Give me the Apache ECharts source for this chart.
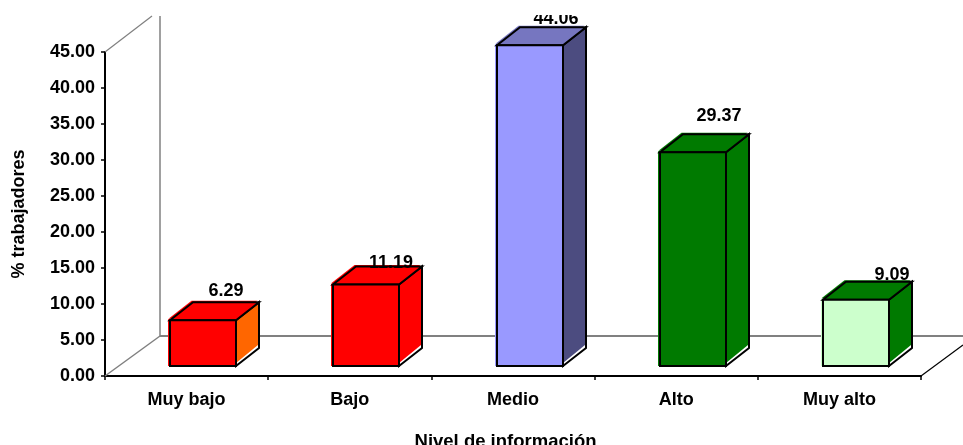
<!DOCTYPE html>
<html>
<head>
<meta charset="utf-8">
<style>html,body{margin:0;padding:0;background:#fff}#chart{width:963px;height:445px}</style>
<script src="https://cdn.jsdelivr.net/npm/echarts@6/dist/echarts.min.js"></script>
</head>
<body>
<div id="chart"></div>
<script>
// Nivel de información: share of workers per level
const categories = ['Muy bajo', 'Bajo', 'Medio', 'Alto', 'Muy alto'];
const values = [6.29, 11.19, 44.06, 29.37, 9.09];
const valueLabels = ['6.29', '11.19', '44.06', '29.37', '9.09'];
const yTicks = { min: 0, max: 45, interval: 5 };

// Per-bar face colours
const frontColors = ['#ff0000', '#ff0000', '#9999ff', '#007a00', '#ccffcc'];
const topColors = ['#ff0000', '#ff0000', '#7676c0', '#007a00', '#007a00'];
const sideColors = ['#ff6600', '#ff0000', '#4c4c80', '#007a00', '#007a00'];
// Hand-placed data label nudges, relative to the top-right of each bar's front face
const labelNudge = [[-10, -29], [-8, -22], [-7, -26], [-7, -36], [3, -25]];

// Oblique projection constants
const FLOOR = { dx: 55, dy: -40 };
const BAR_DEPTH = { dx: 23, dy: -18 };
const BAR_SHIFT = { dx: 16.5, dy: -10 };
const BAR_WIDTH = 66;
const FRONT_SCALE = 1.011;
const FONT = '"Liberation Sans", Arial, sans-serif';

const line = (x1, y1, x2, y2, stroke, lineWidth) => ({
  type: 'line',
  shape: { x1, y1, x2, y2 },
  style: { stroke, lineWidth }
});

function renderWalls(params, api) {
  const o = api.coord([0, 0]);
  const top = api.coord([0, yTicks.max]);
  const left = params.coordSys.x;
  const right = left + params.coordSys.width;
  const y0 = o[1], y1 = top[1];
  const gray = '#808080';
  return {
    type: 'group',
    silent: true,
    children: [
      line(left + FLOOR.dx, y0 + FLOOR.dy, left + FLOOR.dx, 16, '#a0a0a0', 2),
      line(left, y1, left + 47, 16, gray, 1.2),
      line(left, y0, left + FLOOR.dx, y0 + FLOOR.dy, gray, 1.5),
      line(left + FLOOR.dx, y0 + FLOOR.dy, 963, y0 + FLOOR.dy, gray, 2),
      line(right, y0, 963, y0 - 31, '#000', 1.2)
    ]
  };
}

function renderBar(params, api) {
  const i = params.dataIndex;
  const base = api.coord([api.value(0), 0]);
  const head = api.coord([api.value(0), api.value(1)]);
  const h = (base[1] - head[1]) * FRONT_SCALE;
  const x = Math.round(base[0] + BAR_SHIFT.dx - BAR_WIDTH / 2);
  const b = base[1] + BAR_SHIFT.dy;
  const t = b - h;
  const r = x + BAR_WIDTH;
  const d = BAR_DEPTH;
  const edge = { stroke: '#000', lineWidth: 2, lineJoin: 'miter' };
  const topFace = (ox, oy) => [[x + ox, t + oy], [r + ox, t + oy], [r + d.dx + ox, t + d.dy + oy], [x + d.dx + ox, t + d.dy + oy]];
  return {
    type: 'group',
    children: [
      // white sliver beneath the side face
      { type: 'polygon', shape: { points: [[r, b], [r, t], [r + d.dx, t + d.dy], [r + d.dx, b + d.dy]] },
        style: Object.assign({ fill: '#fff' }, edge) },
      { type: 'polygon', shape: { points: [[r, b - 3], [r, t], [r + d.dx - 1, t + d.dy + 1], [r + d.dx - 1, b + d.dy - 3]] },
        style: { fill: sideColors[i] } },
      { type: 'polyline', shape: { points: [[r, t], [r + d.dx, t + d.dy], [r + d.dx, b + d.dy]] },
        style: { fill: null, stroke: '#000', lineWidth: 2 } },
      // coloured fringe along the upper-left edges of the faces
      { type: 'polygon', shape: { points: topFace(-1.5, -1.5) }, style: { fill: topColors[i] } },
      { type: 'rect', shape: { x: x - 2, y: t - 1, width: 4, height: h + 1 }, style: { fill: frontColors[i] } },
      { type: 'polygon', shape: { points: topFace(0, 0) },
        style: Object.assign({ fill: topColors[i] }, edge) },
      { type: 'rect', shape: { x, y: t, width: BAR_WIDTH, height: h },
        style: Object.assign({ fill: frontColors[i] }, edge) },
      { type: 'text', z2: 10,
        style: { x: r + labelNudge[i][0], y: t + labelNudge[i][1], text: valueLabels[i],
                 fill: '#000', font: 'bold 18px ' + FONT, align: 'center', verticalAlign: 'middle' } }
    ]
  };
}

const chart = echarts.init(document.getElementById('chart'), null, { renderer: 'canvas' });
chart.setOption({
  animation: false,
  backgroundColor: '#fff',
  grid: { left: 105, right: 42, top: 52, bottom: 69, outerBoundsMode: 'none' },
  xAxis: {
    type: 'category',
    data: categories,
    name: 'Nivel de información',
    nameLocation: 'middle',
    nameGap: 56,
    nameTextStyle: { color: '#000', fontWeight: 'bold', fontSize: 18.5, fontFamily: FONT, padding: [0, 15, 0, 0] },
    axisLine: { lineStyle: { color: '#000', width: 2 } },
    axisTick: { show: true, length: 4, lineStyle: { color: '#000', width: 1.5 } },
    axisLabel: { interval: 0, color: '#000', fontWeight: 'bold', fontSize: 18, fontFamily: FONT, margin: 15 }
  },
  yAxis: {
    type: 'value',
    min: yTicks.min,
    max: yTicks.max,
    interval: yTicks.interval,
    name: '% trabajadores',
    nameLocation: 'middle',
    nameGap: 77,
    nameTextStyle: { color: '#000', fontWeight: 'bold', fontSize: 18, fontFamily: FONT },
    splitLine: { show: false },
    axisLine: { show: true, lineStyle: { color: '#000', width: 2 } },
    axisTick: { show: true, length: 4, lineStyle: { color: '#000', width: 1.5 } },
    axisLabel: { color: '#000', fontWeight: 'bold', fontSize: 18, fontFamily: FONT, margin: 10,
                 formatter: v => v.toFixed(2) }
  },
  // Everything above the plot's ceiling is cut off
  graphic: [{ type: 'rect', z: 100, silent: true, shape: { x: 0, y: 0, width: 963, height: 15 }, style: { fill: '#fff' } }],
  series: [
    { type: 'custom', z: 1, clip: false, renderItem: renderWalls, data: [[0, 0]], encode: { x: 0, y: 1 } },
    { type: 'custom', z: 2, clip: false, renderItem: renderBar,
      data: categories.map((c, i) => [i, values[i]]), encode: { x: 0, y: 1 } }
  ]
});
</script>
</body>
</html>
